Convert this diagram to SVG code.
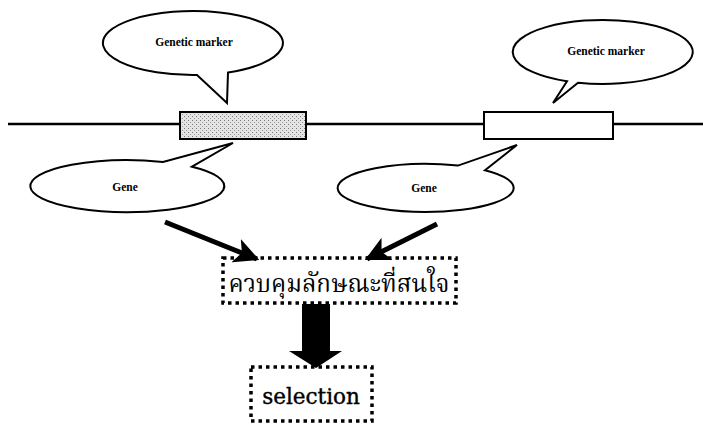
<svg xmlns="http://www.w3.org/2000/svg" width="703" height="427" viewBox="0 0 703 427">
<defs>
<style>
.bub{fill:#fff;stroke:#000;stroke-width:2;stroke-linejoin:miter}
.lbl{font-family:"Liberation Serif",serif;font-size:11.5px;font-weight:bold;text-anchor:middle;fill:#000}
.dot{fill:#fff;stroke:#000;stroke-width:3.5;stroke-dasharray:3.5 4}
.thai{font-family:"Noto Serif Thai","Noto Sans Thai","Liberation Serif",serif;text-anchor:middle;fill:#000}
.sel{font-family:"DejaVu Serif",serif;text-anchor:middle;fill:#000;stroke:#000;stroke-width:0.4}
</style>
<pattern id="stip" width="4" height="4" patternUnits="userSpaceOnUse">
<rect width="4" height="4" fill="#e4e4e4"/>
<rect x="0" y="0" width="1" height="1" fill="#777"/>
<rect x="2" y="2" width="1" height="1" fill="#999"/>
</pattern>
<marker id="ah" viewBox="0 0 10 10" refX="9" refY="5" markerWidth="5" markerHeight="5" orient="auto" markerUnits="strokeWidth">
<path d="M0,0 L10,5 L0,10 L2.5,5 Z" fill="#000"/>
</marker>
</defs>
<g id="chromosome">
<line x1="8" y1="124" x2="703" y2="124" stroke="#000" stroke-width="2.5"/>
</g>
<g id="gene1box">
<rect x="180" y="112" width="126" height="27" fill="url(#stip)" stroke="#000" stroke-width="2"/>
</g>
<g id="gene2box">
<rect x="484" y="112" width="129" height="27" fill="#fff" stroke="#000" stroke-width="2"/>
</g>
<g id="marker1">
<path class="bub" d="M228,72.5 A90,32 0 1 0 197,75 L227,103 Z"/>
<text class="lbl" x="194" y="46">Genetic marker</text>
</g>
<g id="marker2">
<path class="bub" d="M567,81.3 A90,32 0 1 1 578,82.7 L553,103 Z"/>
<text class="lbl" x="606" y="55">Genetic marker</text>
</g>
<g id="gene1">
<path class="bub" d="M163,161.9 A97,26 0 1 0 192,166.7 L233,143 Z"/>
<text class="lbl" x="125" y="191">Gene</text>
</g>
<g id="gene2">
<path class="bub" d="M458,165.6 A88,24 0 1 0 485,170.2 L517,145 Z"/>
<text class="lbl" x="424" y="192">Gene</text>
</g>
<g id="trait">
<rect class="dot" x="223" y="258" width="233" height="45"/>
<text class="thai" x="339" y="292" font-size="24">ควบคุมลักษณะที่สนใจ</text>
</g>
<g id="selection">
<rect class="dot" x="251" y="367" width="121" height="54"/>
<text class="sel" x="311" y="404" font-size="21.5">selection</text>
</g>
<g id="connectors">
<line x1="165" y1="222" x2="257" y2="259" stroke="#000" stroke-width="5" marker-end="url(#ah)"/>
<line x1="437" y1="224" x2="367" y2="259" stroke="#000" stroke-width="5" marker-end="url(#ah)"/>
<path d="M302,304 H330 V351 H342 L316,368 L289,351 H302 Z" fill="#000"/>
</g>
</svg>
